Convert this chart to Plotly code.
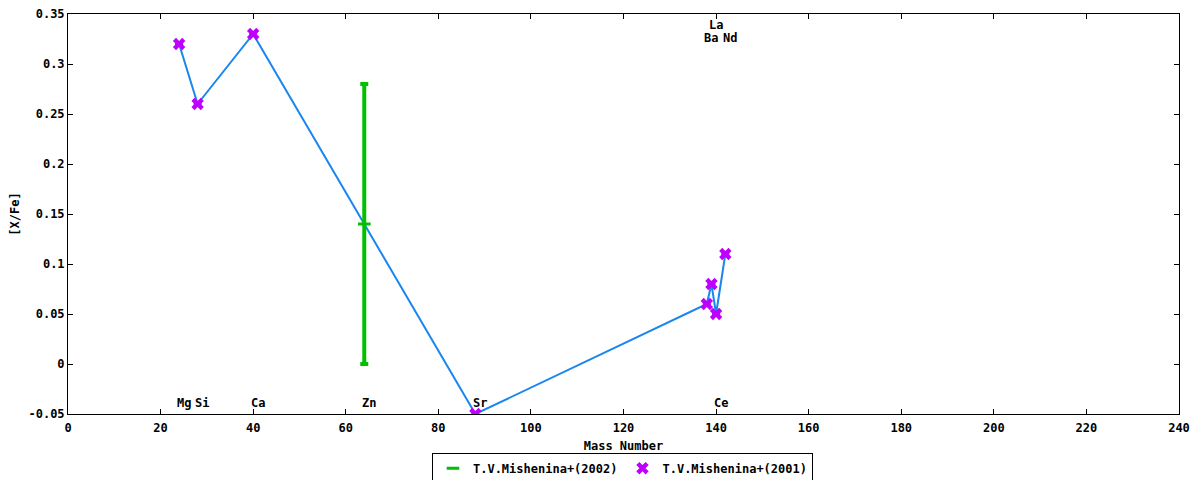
import plotly.graph_objects as go

# T.V.Mishenina+(2001)
mass_2001 = [24, 28, 40, 88, 138, 139, 140, 142]
xfe_2001 = [0.32, 0.26, 0.33, -0.05, 0.06, 0.08, 0.05, 0.11]

# T.V.Mishenina+(2002)
mass_2002 = [64]
xfe_2002 = [0.14]
err_2002 = [0.14]

# connecting line over all points
mass_all = [24, 28, 40, 64, 88, 138, 139, 140, 142]
xfe_all = [0.32, 0.26, 0.33, 0.14, -0.05, 0.06, 0.08, 0.05, 0.11]

# element labels
elem_names = ["Mg", "Si", "Ca", "Zn", "Sr", "Ce", "La", "Ba", "Nd"]
elem_x = [25, 29, 41, 65, 89, 141, 140, 139, 143]
elem_y = [-0.039, -0.039, -0.039, -0.039, -0.039, -0.039, 0.339, 0.326, 0.326]

xticks = list(range(0, 241, 20))
yticks = [-0.05, 0, 0.05, 0.1, 0.15, 0.2, 0.25, 0.3, 0.35]
yticktext = ["-0.05", "0", "0.05", "0.1", "0.15", "0.2", "0.25", "0.3", "0.35"]

FONT = "DejaVu Sans Mono"
bold = dict(family=FONT, size=12, color="black", weight="bold")

fig = go.Figure()

fig.add_trace(go.Scatter(
    x=mass_all, y=xfe_all, mode="lines",
    line=dict(color="#1a86f0", width=2),
    showlegend=False, hoverinfo="skip",
))

fig.add_trace(go.Scatter(
    x=mass_2002, y=xfe_2002, mode="markers",
    name="T.V.Mishenina+(2002)",
    marker=dict(color="#00c000", size=9, symbol="line-ew",
                line=dict(color="#00c000", width=3)),
    error_y=dict(type="data", array=err_2002, color="#00c000",
                 thickness=4, width=4),
))

fig.add_trace(go.Scatter(
    x=mass_2001, y=xfe_2001, mode="markers",
    name="T.V.Mishenina+(2001)",
    marker=dict(color="#c000ff", size=11, symbol="x"),
    error_y=dict(type="data", array=[0] * len(mass_2001), color="#c000ff",
                 thickness=3, width=4),
))

for name, x, y in zip(elem_names, elem_x, elem_y):
    fig.add_annotation(x=x, y=y, text=name, showarrow=False, font=bold)

axis_common = dict(
    showgrid=False, zeroline=False, showline=True, linecolor="black",
    linewidth=1, mirror="ticks", ticks="inside", ticklen=5,
    tickcolor="black", tickfont=bold, automargin=False,
    ticklabeloverflow="allow",
)

fig.update_xaxes(range=[0, 240], tickvals=xticks, ticklabelstandoff=3,
                 title=dict(text="Mass Number", standoff=14, font=bold),
                 **axis_common)
fig.update_yaxes(range=[-0.05, 0.35], tickvals=yticks, ticktext=yticktext,
                 title=dict(text="[X/Fe]", standoff=10, font=bold),
                 **axis_common)

# page body adds an 8px offset, so the figure is sized to fit the window
fig.update_layout(
    width=1192, height=472,
    margin=dict(l=60, r=21, t=6, b=66),
    plot_bgcolor="white", paper_bgcolor="white",
    font=dict(family=FONT, size=12, color="black"),
    legend=dict(orientation="h", x=0.5155, xanchor="center", xref="container",
                y=0.025, yanchor="middle", yref="container",
                bordercolor="black", borderwidth=1,
                font=bold, itemwidth=30, tracegroupgap=0),
)

fig.write_html("out.html")
